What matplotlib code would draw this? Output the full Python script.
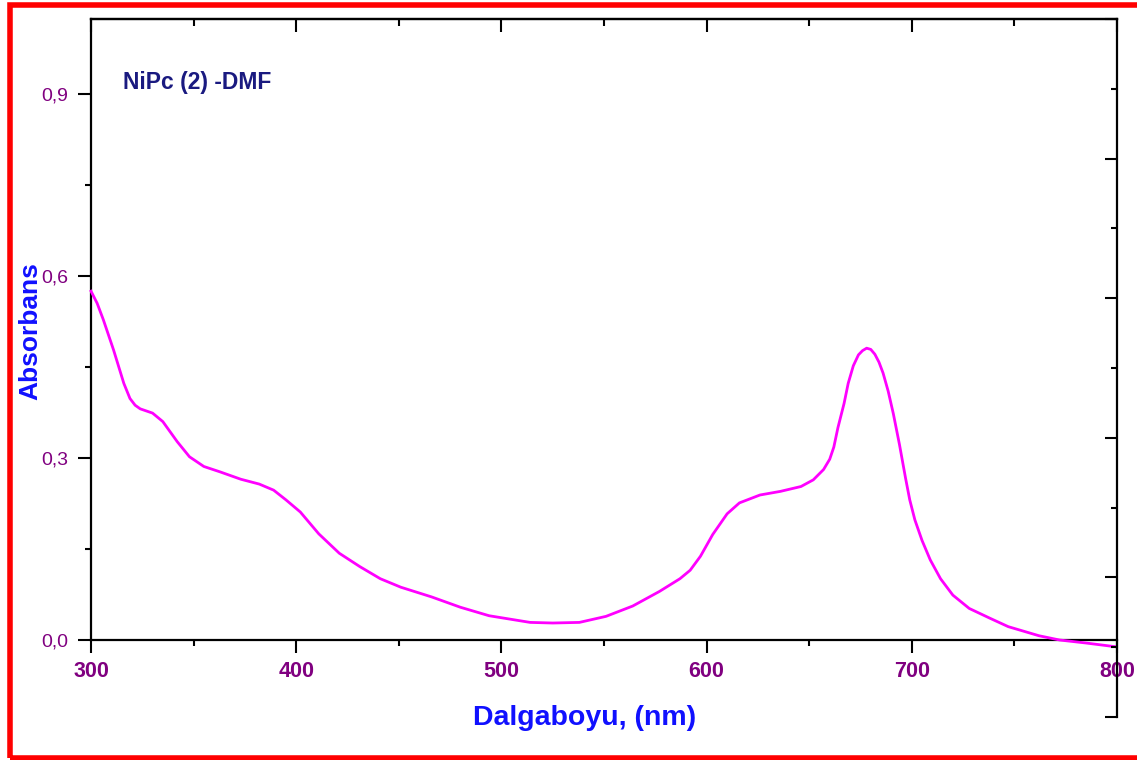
import matplotlib
matplotlib.use("Agg")
import matplotlib.pyplot as plt
from matplotlib.ticker import MultipleLocator, FuncFormatter
from matplotlib.patches import Rectangle

dalga = [300, 303, 306, 311, 316, 319, 321.5, 324, 330, 335, 342, 348, 355, 363, 373,
         382, 389, 395, 402, 411, 421, 431, 441, 451, 466, 480, 494, 514, 525,
         538, 551, 564, 577, 587, 592, 597, 603, 610, 616, 626, 636, 646, 652,
         657, 660, 662, 664, 667, 669, 671.5, 674, 676, 678, 680, 682, 684, 686,
         688.5, 691, 694, 697, 699, 701.5, 705, 709, 714, 720, 728, 738, 747,
         762, 772, 785, 799]
absorb = [0.575, 0.555, 0.528, 0.478, 0.423, 0.398, 0.387, 0.381, 0.374, 0.360, 0.327,
          0.302, 0.286, 0.277, 0.265, 0.257, 0.247, 0.231, 0.211, 0.175, 0.143,
          0.121, 0.101, 0.087, 0.071, 0.054, 0.040, 0.029, 0.028, 0.029, 0.039,
          0.056, 0.080, 0.101, 0.115, 0.138, 0.174, 0.208, 0.226, 0.239, 0.245,
          0.253, 0.264, 0.281, 0.298, 0.318, 0.350, 0.390, 0.423, 0.452, 0.470,
          0.477, 0.481, 0.479, 0.471, 0.458, 0.440, 0.410, 0.373, 0.322, 0.266,
          0.231, 0.198, 0.164, 0.132, 0.101, 0.074, 0.052, 0.036, 0.022, 0.007,
          0.000, -0.005, -0.011]

x_ticks = [300, 400, 500, 600, 700, 800]
y_ticks = [0.0, 0.3, 0.6, 0.9]

plt.rcParams['font.family'] = ['Liberation Sans', 'DejaVu Sans']

fig = plt.figure(figsize=(11.37, 7.60), dpi=100)
W, H = 1137, 760

# marco rojo
fig.patches.append(Rectangle((9.5 / W, 2.5 / H), 1.2, 755 / H - 2.5 / H, transform=fig.transFigure,
                             fill=False, edgecolor='#ff0000', linewidth=4, zorder=10))

left, right, top, bottom = 91, 1117, 19, 640
ax = fig.add_axes([left / W, (H - bottom) / H, (right - left) / W, (bottom - top) / H])

ax.plot(dalga, absorb, color='#ff00ff', linewidth=2.0, clip_on=False, zorder=5)

ax.set_xlim(300, 800)
ax.set_ylim(0, 1.0236)

tick_purple = '#800080'
ax.set_xticks(x_ticks)
ax.xaxis.set_minor_locator(MultipleLocator(50))
ax.set_yticks(y_ticks)
ax.yaxis.set_minor_locator(MultipleLocator(0.15))
ax.yaxis.set_major_formatter(FuncFormatter(lambda v, p: f"{v:.1f}".replace('.', ',')))

ax.tick_params(axis='x', which='major', direction='out', length=9, width=1.5, pad=6,
               labelsize=15.5, labelcolor=tick_purple)
ax.tick_params(axis='x', which='minor', direction='out', length=4.5, width=1.5)
ax.tick_params(axis='y', which='major', direction='out', length=9.5, width=1.5, pad=7,
               labelsize=14, labelcolor=tick_purple)
ax.tick_params(axis='y', which='minor', direction='out', length=4, width=1.5)
for lab in ax.get_xticklabels():
    lab.set_fontweight('bold')

for s in ['left', 'bottom', 'top']:
    ax.spines[s].set_linewidth(1.6)
ax.spines['right'].set_visible(False)

# eje superior con marcas hacia dentro
sec = ax.secondary_xaxis('top')
sec.set_xticks(x_ticks)
sec.xaxis.set_minor_locator(MultipleLocator(50))
sec.tick_params(which='major', direction='in', length=9.5, width=1.5, labeltop=False)
sec.tick_params(which='minor', direction='in', length=5, width=1.5)
sec.spines['top'].set_linewidth(1.6)

# eje derecho (escala aparte, mas largo)
r_bottom = 717
axr = fig.add_axes([left / W, (H - r_bottom) / H, (right - left) / W, (r_bottom - top) / H])
axr.patch.set_visible(False)
for s in ['left', 'bottom', 'top']:
    axr.spines[s].set_visible(False)
axr.spines['right'].set_linewidth(1.6)
axr.set_xticks([])
axr.set_ylim(0, 5)
axr.yaxis.set_major_locator(MultipleLocator(1))
axr.yaxis.set_minor_locator(MultipleLocator(0.5))
axr.yaxis.tick_right()
axr.tick_params(axis='y', which='major', direction='in', length=9, width=1.5, labelright=False)
axr.tick_params(axis='y', which='minor', direction='in', length=4, width=1.5)

# etiquetas de ejes (posicion fija como en la original)
fig.text(585 / W, 1 - 718 / H, 'Dalgaboyu, (nm)', fontsize=20.5, fontweight='bold',
         color='#1010ff', ha='center', va='center')
fig.text(30 / W, 1 - 331 / H, 'Absorbans', fontsize=19, fontweight='bold',
         color='#1010ff', ha='center', va='center', rotation=90)

ax.text(0.031, 0.897, 'NiPc (2) -DMF', transform=ax.transAxes, fontsize=16.5,
        fontweight='bold', color='#1a1a80', va='center', ha='left')

fig.savefig('out.png', dpi=100)
